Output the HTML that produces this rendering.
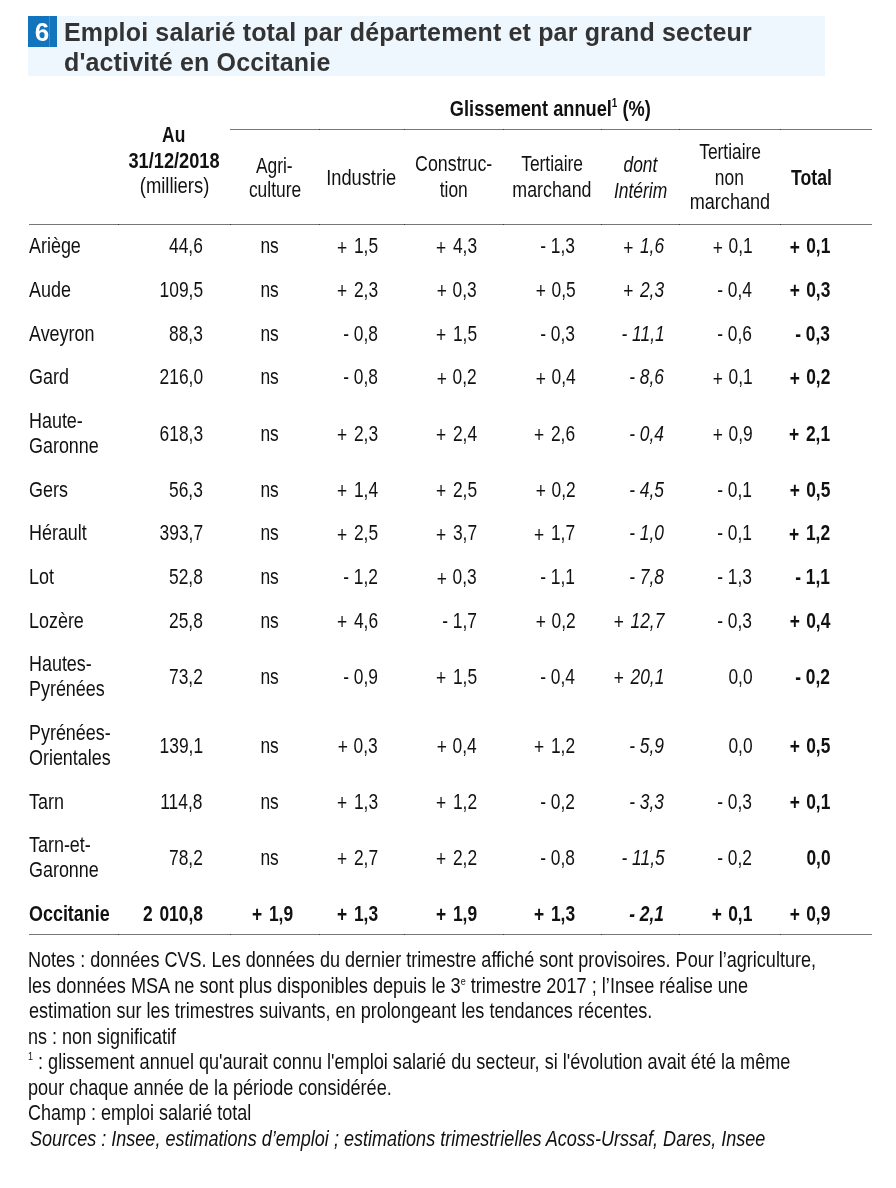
<!DOCTYPE html>
<html lang="fr"><head><meta charset="utf-8">
<style>
html,body{margin:0;padding:0;background:#fff;}
body{will-change:transform;width:896px;height:1188px;position:relative;overflow:hidden;font-family:"Liberation Sans",sans-serif;color:#111;}
.t{position:absolute;white-space:nowrap;}
.t > span{display:inline-block;white-space:nowrap;}
sup.s1{font-size:12px;line-height:0;vertical-align:baseline;position:relative;top:-9px;font-weight:bold;}
sup.s2{font-size:11px;line-height:0;vertical-align:baseline;position:relative;top:-8px;}
sup.s3{font-size:11px;line-height:0;vertical-align:baseline;position:relative;top:-9px;}
.hdr{position:absolute;left:28px;top:16px;width:797px;height:60px;background:#eff7fe;}
.num{position:absolute;left:28px;top:16px;width:29px;height:31px;background:#1274bd;}
.num i{position:absolute;left:21px;top:0;width:1px;height:31px;background:#3d8ccb;}
.num b{position:absolute;left:3.5px;top:1px;width:21px;height:31px;color:#fff;font:bold 26px/31px "Liberation Sans",sans-serif;text-align:center;}
.ttl{position:absolute;left:64px;color:#333;font:bold 25px/30px "Liberation Sans",sans-serif;letter-spacing:0.15px;white-space:nowrap;}
.pl{position:relative;top:1.5px;margin-right:2.5px;}
.pl.p0{margin-right:1.2px;}
.t[style*="bold"] .pl.p0{margin-right:1.8px;}
.ln{position:absolute;height:1px;background:#777;}
.tk{position:absolute;width:1px;height:1px;background:#3a3a3a;}
</style></head><body>
<div class="hdr"></div>
<div class="num"><b>6</b><i></i></div>
<div class="ttl" style="top:16.5px">Emploi salarié total par département et par grand secteur</div>
<div class="ttl" style="top:46.5px">d'activité en Occitanie</div>
<div class="ln" style="left:230px;top:129px;width:642px"></div>
<div class="ln" style="left:29px;top:224px;width:843px"></div>
<div class="ln" style="left:29px;top:934px;width:843px"></div>
<div class="tk" style="left:118px;top:224px"></div>
<div class="tk" style="left:230px;top:224px"></div>
<div class="tk" style="left:319px;top:224px"></div>
<div class="tk" style="left:404px;top:224px"></div>
<div class="tk" style="left:503px;top:224px"></div>
<div class="tk" style="left:601px;top:224px"></div>
<div class="tk" style="left:679px;top:224px"></div>
<div class="tk" style="left:780px;top:224px"></div>
<div class="tk" style="left:118px;top:934px"></div>
<div class="tk" style="left:230px;top:934px"></div>
<div class="tk" style="left:319px;top:934px"></div>
<div class="tk" style="left:404px;top:934px"></div>
<div class="tk" style="left:503px;top:934px"></div>
<div class="tk" style="left:601px;top:934px"></div>
<div class="tk" style="left:679px;top:934px"></div>
<div class="tk" style="left:780px;top:934px"></div>
<div class="tk" style="left:319px;top:129px"></div>
<div class="tk" style="left:404px;top:129px"></div>
<div class="tk" style="left:503px;top:129px"></div>
<div class="tk" style="left:601px;top:129px"></div>
<div class="tk" style="left:679px;top:129px"></div>
<div class="tk" style="left:780px;top:129px"></div>
<div class="t" style="top:97.77px;left:250.50px;width:600px;text-align:center;font-size:22px;line-height:22px;height:22px;font-weight:bold"><span style="transform:scaleX(0.8282);transform-origin:center 50%">Glissement annuel<sup class="s1">1</sup> (%)</span></div>
<div class="t" style="top:124.27px;left:-126.00px;width:600px;text-align:center;font-size:22px;line-height:22px;height:22px;font-weight:bold"><span style="transform:scaleX(0.7900);transform-origin:center 50%">Au</span></div>
<div class="t" style="top:150.37px;left:-125.90px;width:600px;text-align:center;font-size:22px;line-height:22px;height:22px;font-weight:bold"><span style="transform:scaleX(0.8278);transform-origin:center 50%">31/12/2018</span></div>
<div class="t" style="top:174.87px;left:-125.70px;width:600px;text-align:center;font-size:22px;line-height:22px;height:22px"><span style="transform:scaleX(0.8375);transform-origin:center 50%">(milliers)</span></div>
<div class="t" style="top:155.07px;left:-25.60px;width:600px;text-align:center;font-size:22px;line-height:22px;height:22px"><span style="transform:scaleX(0.7900);transform-origin:center 50%">Agri-</span></div>
<div class="t" style="top:179.47px;left:-24.90px;width:600px;text-align:center;font-size:22px;line-height:22px;height:22px"><span style="transform:scaleX(0.7900);transform-origin:center 50%">culture</span></div>
<div class="t" style="top:167.07px;left:61.53px;width:600px;text-align:center;font-size:22px;line-height:22px;height:22px"><span style="transform:scaleX(0.8309);transform-origin:center 50%">Industrie</span></div>
<div class="t" style="top:153.37px;left:154.01px;width:600px;text-align:center;font-size:22px;line-height:22px;height:22px"><span style="transform:scaleX(0.8097);transform-origin:center 50%">Construc-</span></div>
<div class="t" style="top:179.37px;left:153.60px;width:600px;text-align:center;font-size:22px;line-height:22px;height:22px"><span style="transform:scaleX(0.7900);transform-origin:center 50%">tion</span></div>
<div class="t" style="top:153.37px;left:252.14px;width:600px;text-align:center;font-size:22px;line-height:22px;height:22px"><span style="transform:scaleX(0.7896);transform-origin:center 50%">Tertiaire</span></div>
<div class="t" style="top:179.37px;left:252.09px;width:600px;text-align:center;font-size:22px;line-height:22px;height:22px"><span style="transform:scaleX(0.8095);transform-origin:center 50%">marchand</span></div>
<div class="t" style="top:153.97px;left:340.20px;width:600px;text-align:center;font-size:22px;line-height:22px;height:22px;font-style:italic"><span style="transform:scaleX(0.7900);transform-origin:center 50%">dont</span></div>
<div class="t" style="top:179.57px;left:340.31px;width:600px;text-align:center;font-size:22px;line-height:22px;height:22px;font-style:italic"><span style="transform:scaleX(0.7924);transform-origin:center 50%">Intérim</span></div>
<div class="t" style="top:140.87px;left:429.80px;width:600px;text-align:center;font-size:22px;line-height:22px;height:22px"><span style="transform:scaleX(0.7900);transform-origin:center 50%">Tertiaire</span></div>
<div class="t" style="top:167.07px;left:429.80px;width:600px;text-align:center;font-size:22px;line-height:22px;height:22px"><span style="transform:scaleX(0.7900);transform-origin:center 50%">non</span></div>
<div class="t" style="top:191.37px;left:429.92px;width:600px;text-align:center;font-size:22px;line-height:22px;height:22px"><span style="transform:scaleX(0.8226);transform-origin:center 50%">marchand</span></div>
<div class="t" style="top:167.07px;left:231.88px;width:600px;text-align:right;font-size:22px;line-height:22px;height:22px;font-weight:bold"><span style="transform:scaleX(0.8031);transform-origin:right 50%">Total</span></div>
<div class="t" style="top:235.27px;left:29.40px;font-size:22px;line-height:22px;height:22px"><span style="transform:scaleX(0.8150);transform-origin:left 50%">Ariège</span></div>
<div class="t" style="top:235.27px;left:-397.20px;width:600px;text-align:right;font-size:22px;line-height:22px;height:22px"><span style="transform:scaleX(0.7900);transform-origin:right 50%">44,6</span></div>
<div class="t" style="top:235.27px;left:-30.10px;width:600px;text-align:center;font-size:22px;line-height:22px;height:22px"><span style="transform:scaleX(0.7900);transform-origin:center 50%">ns</span></div>
<div class="t" style="top:235.27px;left:-222.30px;width:600px;text-align:right;font-size:22px;line-height:22px;height:22px"><span style="transform:scaleX(0.7900);transform-origin:right 50%"><span class="pl">+</span> 1,5</span></div>
<div class="t" style="top:235.27px;left:-123.10px;width:600px;text-align:right;font-size:22px;line-height:22px;height:22px"><span style="transform:scaleX(0.7900);transform-origin:right 50%"><span class="pl">+</span> 4,3</span></div>
<div class="t" style="top:235.27px;left:-24.50px;width:600px;text-align:right;font-size:22px;line-height:22px;height:22px"><span style="transform:scaleX(0.7900);transform-origin:right 50%">- 1,3</span></div>
<div class="t" style="top:235.27px;left:64.50px;width:600px;text-align:right;font-size:22px;line-height:22px;height:22px;font-style:italic"><span style="transform:scaleX(0.7900);transform-origin:right 50%"><span class="pl">+</span> 1,6</span></div>
<div class="t" style="top:235.27px;left:152.30px;width:600px;text-align:right;font-size:22px;line-height:22px;height:22px"><span style="transform:scaleX(0.7900);transform-origin:right 50%"><span class="pl p0">+</span> 0,1</span></div>
<div class="t" style="top:235.27px;left:230.20px;width:600px;text-align:right;font-size:22px;line-height:22px;height:22px;font-weight:bold"><span style="transform:scaleX(0.7900);transform-origin:right 50%"><span class="pl p0">+</span> 0,1</span></div>
<div class="t" style="top:278.97px;left:29.40px;font-size:22px;line-height:22px;height:22px"><span style="transform:scaleX(0.8150);transform-origin:left 50%">Aude</span></div>
<div class="t" style="top:278.97px;left:-397.20px;width:600px;text-align:right;font-size:22px;line-height:22px;height:22px"><span style="transform:scaleX(0.7900);transform-origin:right 50%">109,5</span></div>
<div class="t" style="top:278.97px;left:-30.10px;width:600px;text-align:center;font-size:22px;line-height:22px;height:22px"><span style="transform:scaleX(0.7900);transform-origin:center 50%">ns</span></div>
<div class="t" style="top:278.97px;left:-222.30px;width:600px;text-align:right;font-size:22px;line-height:22px;height:22px"><span style="transform:scaleX(0.7900);transform-origin:right 50%"><span class="pl">+</span> 2,3</span></div>
<div class="t" style="top:278.97px;left:-123.10px;width:600px;text-align:right;font-size:22px;line-height:22px;height:22px"><span style="transform:scaleX(0.7900);transform-origin:right 50%"><span class="pl p0">+</span> 0,3</span></div>
<div class="t" style="top:278.97px;left:-24.50px;width:600px;text-align:right;font-size:22px;line-height:22px;height:22px"><span style="transform:scaleX(0.7900);transform-origin:right 50%"><span class="pl p0">+</span> 0,5</span></div>
<div class="t" style="top:278.97px;left:64.50px;width:600px;text-align:right;font-size:22px;line-height:22px;height:22px;font-style:italic"><span style="transform:scaleX(0.7900);transform-origin:right 50%"><span class="pl">+</span> 2,3</span></div>
<div class="t" style="top:278.97px;left:152.30px;width:600px;text-align:right;font-size:22px;line-height:22px;height:22px"><span style="transform:scaleX(0.7900);transform-origin:right 50%">- 0,4</span></div>
<div class="t" style="top:278.97px;left:230.20px;width:600px;text-align:right;font-size:22px;line-height:22px;height:22px;font-weight:bold"><span style="transform:scaleX(0.7900);transform-origin:right 50%"><span class="pl p0">+</span> 0,3</span></div>
<div class="t" style="top:322.67px;left:29.40px;font-size:22px;line-height:22px;height:22px"><span style="transform:scaleX(0.8150);transform-origin:left 50%">Aveyron</span></div>
<div class="t" style="top:322.67px;left:-397.20px;width:600px;text-align:right;font-size:22px;line-height:22px;height:22px"><span style="transform:scaleX(0.7900);transform-origin:right 50%">88,3</span></div>
<div class="t" style="top:322.67px;left:-30.10px;width:600px;text-align:center;font-size:22px;line-height:22px;height:22px"><span style="transform:scaleX(0.7900);transform-origin:center 50%">ns</span></div>
<div class="t" style="top:322.67px;left:-222.30px;width:600px;text-align:right;font-size:22px;line-height:22px;height:22px"><span style="transform:scaleX(0.7900);transform-origin:right 50%">- 0,8</span></div>
<div class="t" style="top:322.67px;left:-123.10px;width:600px;text-align:right;font-size:22px;line-height:22px;height:22px"><span style="transform:scaleX(0.7900);transform-origin:right 50%"><span class="pl">+</span> 1,5</span></div>
<div class="t" style="top:322.67px;left:-24.50px;width:600px;text-align:right;font-size:22px;line-height:22px;height:22px"><span style="transform:scaleX(0.7900);transform-origin:right 50%">- 0,3</span></div>
<div class="t" style="top:322.67px;left:64.50px;width:600px;text-align:right;font-size:22px;line-height:22px;height:22px;font-style:italic"><span style="transform:scaleX(0.7900);transform-origin:right 50%">- 11,1</span></div>
<div class="t" style="top:322.67px;left:152.30px;width:600px;text-align:right;font-size:22px;line-height:22px;height:22px"><span style="transform:scaleX(0.7900);transform-origin:right 50%">- 0,6</span></div>
<div class="t" style="top:322.67px;left:230.20px;width:600px;text-align:right;font-size:22px;line-height:22px;height:22px;font-weight:bold"><span style="transform:scaleX(0.7900);transform-origin:right 50%">- 0,3</span></div>
<div class="t" style="top:366.37px;left:29.40px;font-size:22px;line-height:22px;height:22px"><span style="transform:scaleX(0.8150);transform-origin:left 50%">Gard</span></div>
<div class="t" style="top:366.37px;left:-397.20px;width:600px;text-align:right;font-size:22px;line-height:22px;height:22px"><span style="transform:scaleX(0.7900);transform-origin:right 50%">216,0</span></div>
<div class="t" style="top:366.37px;left:-30.10px;width:600px;text-align:center;font-size:22px;line-height:22px;height:22px"><span style="transform:scaleX(0.7900);transform-origin:center 50%">ns</span></div>
<div class="t" style="top:366.37px;left:-222.30px;width:600px;text-align:right;font-size:22px;line-height:22px;height:22px"><span style="transform:scaleX(0.7900);transform-origin:right 50%">- 0,8</span></div>
<div class="t" style="top:366.37px;left:-123.10px;width:600px;text-align:right;font-size:22px;line-height:22px;height:22px"><span style="transform:scaleX(0.7900);transform-origin:right 50%"><span class="pl p0">+</span> 0,2</span></div>
<div class="t" style="top:366.37px;left:-24.50px;width:600px;text-align:right;font-size:22px;line-height:22px;height:22px"><span style="transform:scaleX(0.7900);transform-origin:right 50%"><span class="pl p0">+</span> 0,4</span></div>
<div class="t" style="top:366.37px;left:64.50px;width:600px;text-align:right;font-size:22px;line-height:22px;height:22px;font-style:italic"><span style="transform:scaleX(0.7900);transform-origin:right 50%">- 8,6</span></div>
<div class="t" style="top:366.37px;left:152.30px;width:600px;text-align:right;font-size:22px;line-height:22px;height:22px"><span style="transform:scaleX(0.7900);transform-origin:right 50%"><span class="pl p0">+</span> 0,1</span></div>
<div class="t" style="top:366.37px;left:230.20px;width:600px;text-align:right;font-size:22px;line-height:22px;height:22px;font-weight:bold"><span style="transform:scaleX(0.7900);transform-origin:right 50%"><span class="pl p0">+</span> 0,2</span></div>
<div class="t" style="top:409.52px;left:29.40px;font-size:22px;line-height:22px;height:22px"><span style="transform:scaleX(0.8150);transform-origin:left 50%">Haute-</span></div>
<div class="t" style="top:435.02px;left:29.40px;font-size:22px;line-height:22px;height:22px"><span style="transform:scaleX(0.8150);transform-origin:left 50%">Garonne</span></div>
<div class="t" style="top:422.52px;left:-397.20px;width:600px;text-align:right;font-size:22px;line-height:22px;height:22px"><span style="transform:scaleX(0.7900);transform-origin:right 50%">618,3</span></div>
<div class="t" style="top:422.52px;left:-30.10px;width:600px;text-align:center;font-size:22px;line-height:22px;height:22px"><span style="transform:scaleX(0.7900);transform-origin:center 50%">ns</span></div>
<div class="t" style="top:422.52px;left:-222.30px;width:600px;text-align:right;font-size:22px;line-height:22px;height:22px"><span style="transform:scaleX(0.7900);transform-origin:right 50%"><span class="pl">+</span> 2,3</span></div>
<div class="t" style="top:422.52px;left:-123.10px;width:600px;text-align:right;font-size:22px;line-height:22px;height:22px"><span style="transform:scaleX(0.7900);transform-origin:right 50%"><span class="pl">+</span> 2,4</span></div>
<div class="t" style="top:422.52px;left:-24.50px;width:600px;text-align:right;font-size:22px;line-height:22px;height:22px"><span style="transform:scaleX(0.7900);transform-origin:right 50%"><span class="pl">+</span> 2,6</span></div>
<div class="t" style="top:422.52px;left:64.50px;width:600px;text-align:right;font-size:22px;line-height:22px;height:22px;font-style:italic"><span style="transform:scaleX(0.7900);transform-origin:right 50%">- 0,4</span></div>
<div class="t" style="top:422.52px;left:152.30px;width:600px;text-align:right;font-size:22px;line-height:22px;height:22px"><span style="transform:scaleX(0.7900);transform-origin:right 50%"><span class="pl p0">+</span> 0,9</span></div>
<div class="t" style="top:422.52px;left:230.20px;width:600px;text-align:right;font-size:22px;line-height:22px;height:22px;font-weight:bold"><span style="transform:scaleX(0.7900);transform-origin:right 50%"><span class="pl">+</span> 2,1</span></div>
<div class="t" style="top:478.67px;left:29.40px;font-size:22px;line-height:22px;height:22px"><span style="transform:scaleX(0.8150);transform-origin:left 50%">Gers</span></div>
<div class="t" style="top:478.67px;left:-397.20px;width:600px;text-align:right;font-size:22px;line-height:22px;height:22px"><span style="transform:scaleX(0.7900);transform-origin:right 50%">56,3</span></div>
<div class="t" style="top:478.67px;left:-30.10px;width:600px;text-align:center;font-size:22px;line-height:22px;height:22px"><span style="transform:scaleX(0.7900);transform-origin:center 50%">ns</span></div>
<div class="t" style="top:478.67px;left:-222.30px;width:600px;text-align:right;font-size:22px;line-height:22px;height:22px"><span style="transform:scaleX(0.7900);transform-origin:right 50%"><span class="pl">+</span> 1,4</span></div>
<div class="t" style="top:478.67px;left:-123.10px;width:600px;text-align:right;font-size:22px;line-height:22px;height:22px"><span style="transform:scaleX(0.7900);transform-origin:right 50%"><span class="pl">+</span> 2,5</span></div>
<div class="t" style="top:478.67px;left:-24.50px;width:600px;text-align:right;font-size:22px;line-height:22px;height:22px"><span style="transform:scaleX(0.7900);transform-origin:right 50%"><span class="pl p0">+</span> 0,2</span></div>
<div class="t" style="top:478.67px;left:64.50px;width:600px;text-align:right;font-size:22px;line-height:22px;height:22px;font-style:italic"><span style="transform:scaleX(0.7900);transform-origin:right 50%">- 4,5</span></div>
<div class="t" style="top:478.67px;left:152.30px;width:600px;text-align:right;font-size:22px;line-height:22px;height:22px"><span style="transform:scaleX(0.7900);transform-origin:right 50%">- 0,1</span></div>
<div class="t" style="top:478.67px;left:230.20px;width:600px;text-align:right;font-size:22px;line-height:22px;height:22px;font-weight:bold"><span style="transform:scaleX(0.7900);transform-origin:right 50%"><span class="pl p0">+</span> 0,5</span></div>
<div class="t" style="top:522.37px;left:29.40px;font-size:22px;line-height:22px;height:22px"><span style="transform:scaleX(0.8150);transform-origin:left 50%">Hérault</span></div>
<div class="t" style="top:522.37px;left:-397.20px;width:600px;text-align:right;font-size:22px;line-height:22px;height:22px"><span style="transform:scaleX(0.7900);transform-origin:right 50%">393,7</span></div>
<div class="t" style="top:522.37px;left:-30.10px;width:600px;text-align:center;font-size:22px;line-height:22px;height:22px"><span style="transform:scaleX(0.7900);transform-origin:center 50%">ns</span></div>
<div class="t" style="top:522.37px;left:-222.30px;width:600px;text-align:right;font-size:22px;line-height:22px;height:22px"><span style="transform:scaleX(0.7900);transform-origin:right 50%"><span class="pl">+</span> 2,5</span></div>
<div class="t" style="top:522.37px;left:-123.10px;width:600px;text-align:right;font-size:22px;line-height:22px;height:22px"><span style="transform:scaleX(0.7900);transform-origin:right 50%"><span class="pl">+</span> 3,7</span></div>
<div class="t" style="top:522.37px;left:-24.50px;width:600px;text-align:right;font-size:22px;line-height:22px;height:22px"><span style="transform:scaleX(0.7900);transform-origin:right 50%"><span class="pl">+</span> 1,7</span></div>
<div class="t" style="top:522.37px;left:64.50px;width:600px;text-align:right;font-size:22px;line-height:22px;height:22px;font-style:italic"><span style="transform:scaleX(0.7900);transform-origin:right 50%">- 1,0</span></div>
<div class="t" style="top:522.37px;left:152.30px;width:600px;text-align:right;font-size:22px;line-height:22px;height:22px"><span style="transform:scaleX(0.7900);transform-origin:right 50%">- 0,1</span></div>
<div class="t" style="top:522.37px;left:230.20px;width:600px;text-align:right;font-size:22px;line-height:22px;height:22px;font-weight:bold"><span style="transform:scaleX(0.7900);transform-origin:right 50%"><span class="pl">+</span> 1,2</span></div>
<div class="t" style="top:566.07px;left:29.40px;font-size:22px;line-height:22px;height:22px"><span style="transform:scaleX(0.8150);transform-origin:left 50%">Lot</span></div>
<div class="t" style="top:566.07px;left:-397.20px;width:600px;text-align:right;font-size:22px;line-height:22px;height:22px"><span style="transform:scaleX(0.7900);transform-origin:right 50%">52,8</span></div>
<div class="t" style="top:566.07px;left:-30.10px;width:600px;text-align:center;font-size:22px;line-height:22px;height:22px"><span style="transform:scaleX(0.7900);transform-origin:center 50%">ns</span></div>
<div class="t" style="top:566.07px;left:-222.30px;width:600px;text-align:right;font-size:22px;line-height:22px;height:22px"><span style="transform:scaleX(0.7900);transform-origin:right 50%">- 1,2</span></div>
<div class="t" style="top:566.07px;left:-123.10px;width:600px;text-align:right;font-size:22px;line-height:22px;height:22px"><span style="transform:scaleX(0.7900);transform-origin:right 50%"><span class="pl p0">+</span> 0,3</span></div>
<div class="t" style="top:566.07px;left:-24.50px;width:600px;text-align:right;font-size:22px;line-height:22px;height:22px"><span style="transform:scaleX(0.7900);transform-origin:right 50%">- 1,1</span></div>
<div class="t" style="top:566.07px;left:64.50px;width:600px;text-align:right;font-size:22px;line-height:22px;height:22px;font-style:italic"><span style="transform:scaleX(0.7900);transform-origin:right 50%">- 7,8</span></div>
<div class="t" style="top:566.07px;left:152.30px;width:600px;text-align:right;font-size:22px;line-height:22px;height:22px"><span style="transform:scaleX(0.7900);transform-origin:right 50%">- 1,3</span></div>
<div class="t" style="top:566.07px;left:230.20px;width:600px;text-align:right;font-size:22px;line-height:22px;height:22px;font-weight:bold"><span style="transform:scaleX(0.7900);transform-origin:right 50%">- 1,1</span></div>
<div class="t" style="top:609.77px;left:29.40px;font-size:22px;line-height:22px;height:22px"><span style="transform:scaleX(0.8150);transform-origin:left 50%">Lozère</span></div>
<div class="t" style="top:609.77px;left:-397.20px;width:600px;text-align:right;font-size:22px;line-height:22px;height:22px"><span style="transform:scaleX(0.7900);transform-origin:right 50%">25,8</span></div>
<div class="t" style="top:609.77px;left:-30.10px;width:600px;text-align:center;font-size:22px;line-height:22px;height:22px"><span style="transform:scaleX(0.7900);transform-origin:center 50%">ns</span></div>
<div class="t" style="top:609.77px;left:-222.30px;width:600px;text-align:right;font-size:22px;line-height:22px;height:22px"><span style="transform:scaleX(0.7900);transform-origin:right 50%"><span class="pl">+</span> 4,6</span></div>
<div class="t" style="top:609.77px;left:-123.10px;width:600px;text-align:right;font-size:22px;line-height:22px;height:22px"><span style="transform:scaleX(0.7900);transform-origin:right 50%">- 1,7</span></div>
<div class="t" style="top:609.77px;left:-24.50px;width:600px;text-align:right;font-size:22px;line-height:22px;height:22px"><span style="transform:scaleX(0.7900);transform-origin:right 50%"><span class="pl p0">+</span> 0,2</span></div>
<div class="t" style="top:609.77px;left:64.50px;width:600px;text-align:right;font-size:22px;line-height:22px;height:22px;font-style:italic"><span style="transform:scaleX(0.7900);transform-origin:right 50%"><span class="pl">+</span> 12,7</span></div>
<div class="t" style="top:609.77px;left:152.30px;width:600px;text-align:right;font-size:22px;line-height:22px;height:22px"><span style="transform:scaleX(0.7900);transform-origin:right 50%">- 0,3</span></div>
<div class="t" style="top:609.77px;left:230.20px;width:600px;text-align:right;font-size:22px;line-height:22px;height:22px;font-weight:bold"><span style="transform:scaleX(0.7900);transform-origin:right 50%"><span class="pl p0">+</span> 0,4</span></div>
<div class="t" style="top:652.92px;left:29.40px;font-size:22px;line-height:22px;height:22px"><span style="transform:scaleX(0.8150);transform-origin:left 50%">Hautes-</span></div>
<div class="t" style="top:678.42px;left:29.40px;font-size:22px;line-height:22px;height:22px"><span style="transform:scaleX(0.8150);transform-origin:left 50%">Pyrénées</span></div>
<div class="t" style="top:665.92px;left:-397.20px;width:600px;text-align:right;font-size:22px;line-height:22px;height:22px"><span style="transform:scaleX(0.7900);transform-origin:right 50%">73,2</span></div>
<div class="t" style="top:665.92px;left:-30.10px;width:600px;text-align:center;font-size:22px;line-height:22px;height:22px"><span style="transform:scaleX(0.7900);transform-origin:center 50%">ns</span></div>
<div class="t" style="top:665.92px;left:-222.30px;width:600px;text-align:right;font-size:22px;line-height:22px;height:22px"><span style="transform:scaleX(0.7900);transform-origin:right 50%">- 0,9</span></div>
<div class="t" style="top:665.92px;left:-123.10px;width:600px;text-align:right;font-size:22px;line-height:22px;height:22px"><span style="transform:scaleX(0.7900);transform-origin:right 50%"><span class="pl">+</span> 1,5</span></div>
<div class="t" style="top:665.92px;left:-24.50px;width:600px;text-align:right;font-size:22px;line-height:22px;height:22px"><span style="transform:scaleX(0.7900);transform-origin:right 50%">- 0,4</span></div>
<div class="t" style="top:665.92px;left:64.50px;width:600px;text-align:right;font-size:22px;line-height:22px;height:22px;font-style:italic"><span style="transform:scaleX(0.7900);transform-origin:right 50%"><span class="pl">+</span> 20,1</span></div>
<div class="t" style="top:665.92px;left:152.30px;width:600px;text-align:right;font-size:22px;line-height:22px;height:22px"><span style="transform:scaleX(0.7900);transform-origin:right 50%">0,0</span></div>
<div class="t" style="top:665.92px;left:230.20px;width:600px;text-align:right;font-size:22px;line-height:22px;height:22px;font-weight:bold"><span style="transform:scaleX(0.7900);transform-origin:right 50%">- 0,2</span></div>
<div class="t" style="top:721.52px;left:29.40px;font-size:22px;line-height:22px;height:22px"><span style="transform:scaleX(0.8150);transform-origin:left 50%">Pyrénées-</span></div>
<div class="t" style="top:747.02px;left:29.40px;font-size:22px;line-height:22px;height:22px"><span style="transform:scaleX(0.8150);transform-origin:left 50%">Orientales</span></div>
<div class="t" style="top:734.52px;left:-397.20px;width:600px;text-align:right;font-size:22px;line-height:22px;height:22px"><span style="transform:scaleX(0.7900);transform-origin:right 50%">139,1</span></div>
<div class="t" style="top:734.52px;left:-30.10px;width:600px;text-align:center;font-size:22px;line-height:22px;height:22px"><span style="transform:scaleX(0.7900);transform-origin:center 50%">ns</span></div>
<div class="t" style="top:734.52px;left:-222.30px;width:600px;text-align:right;font-size:22px;line-height:22px;height:22px"><span style="transform:scaleX(0.7900);transform-origin:right 50%"><span class="pl p0">+</span> 0,3</span></div>
<div class="t" style="top:734.52px;left:-123.10px;width:600px;text-align:right;font-size:22px;line-height:22px;height:22px"><span style="transform:scaleX(0.7900);transform-origin:right 50%"><span class="pl p0">+</span> 0,4</span></div>
<div class="t" style="top:734.52px;left:-24.50px;width:600px;text-align:right;font-size:22px;line-height:22px;height:22px"><span style="transform:scaleX(0.7900);transform-origin:right 50%"><span class="pl">+</span> 1,2</span></div>
<div class="t" style="top:734.52px;left:64.50px;width:600px;text-align:right;font-size:22px;line-height:22px;height:22px;font-style:italic"><span style="transform:scaleX(0.7900);transform-origin:right 50%">- 5,9</span></div>
<div class="t" style="top:734.52px;left:152.30px;width:600px;text-align:right;font-size:22px;line-height:22px;height:22px"><span style="transform:scaleX(0.7900);transform-origin:right 50%">0,0</span></div>
<div class="t" style="top:734.52px;left:230.20px;width:600px;text-align:right;font-size:22px;line-height:22px;height:22px;font-weight:bold"><span style="transform:scaleX(0.7900);transform-origin:right 50%"><span class="pl p0">+</span> 0,5</span></div>
<div class="t" style="top:790.67px;left:29.40px;font-size:22px;line-height:22px;height:22px"><span style="transform:scaleX(0.8150);transform-origin:left 50%">Tarn</span></div>
<div class="t" style="top:790.67px;left:-397.20px;width:600px;text-align:right;font-size:22px;line-height:22px;height:22px"><span style="transform:scaleX(0.7900);transform-origin:right 50%">114,8</span></div>
<div class="t" style="top:790.67px;left:-30.10px;width:600px;text-align:center;font-size:22px;line-height:22px;height:22px"><span style="transform:scaleX(0.7900);transform-origin:center 50%">ns</span></div>
<div class="t" style="top:790.67px;left:-222.30px;width:600px;text-align:right;font-size:22px;line-height:22px;height:22px"><span style="transform:scaleX(0.7900);transform-origin:right 50%"><span class="pl">+</span> 1,3</span></div>
<div class="t" style="top:790.67px;left:-123.10px;width:600px;text-align:right;font-size:22px;line-height:22px;height:22px"><span style="transform:scaleX(0.7900);transform-origin:right 50%"><span class="pl">+</span> 1,2</span></div>
<div class="t" style="top:790.67px;left:-24.50px;width:600px;text-align:right;font-size:22px;line-height:22px;height:22px"><span style="transform:scaleX(0.7900);transform-origin:right 50%">- 0,2</span></div>
<div class="t" style="top:790.67px;left:64.50px;width:600px;text-align:right;font-size:22px;line-height:22px;height:22px;font-style:italic"><span style="transform:scaleX(0.7900);transform-origin:right 50%">- 3,3</span></div>
<div class="t" style="top:790.67px;left:152.30px;width:600px;text-align:right;font-size:22px;line-height:22px;height:22px"><span style="transform:scaleX(0.7900);transform-origin:right 50%">- 0,3</span></div>
<div class="t" style="top:790.67px;left:230.20px;width:600px;text-align:right;font-size:22px;line-height:22px;height:22px;font-weight:bold"><span style="transform:scaleX(0.7900);transform-origin:right 50%"><span class="pl p0">+</span> 0,1</span></div>
<div class="t" style="top:833.82px;left:29.40px;font-size:22px;line-height:22px;height:22px"><span style="transform:scaleX(0.8150);transform-origin:left 50%">Tarn-et-</span></div>
<div class="t" style="top:859.32px;left:29.40px;font-size:22px;line-height:22px;height:22px"><span style="transform:scaleX(0.8150);transform-origin:left 50%">Garonne</span></div>
<div class="t" style="top:846.82px;left:-397.20px;width:600px;text-align:right;font-size:22px;line-height:22px;height:22px"><span style="transform:scaleX(0.7900);transform-origin:right 50%">78,2</span></div>
<div class="t" style="top:846.82px;left:-30.10px;width:600px;text-align:center;font-size:22px;line-height:22px;height:22px"><span style="transform:scaleX(0.7900);transform-origin:center 50%">ns</span></div>
<div class="t" style="top:846.82px;left:-222.30px;width:600px;text-align:right;font-size:22px;line-height:22px;height:22px"><span style="transform:scaleX(0.7900);transform-origin:right 50%"><span class="pl">+</span> 2,7</span></div>
<div class="t" style="top:846.82px;left:-123.10px;width:600px;text-align:right;font-size:22px;line-height:22px;height:22px"><span style="transform:scaleX(0.7900);transform-origin:right 50%"><span class="pl">+</span> 2,2</span></div>
<div class="t" style="top:846.82px;left:-24.50px;width:600px;text-align:right;font-size:22px;line-height:22px;height:22px"><span style="transform:scaleX(0.7900);transform-origin:right 50%">- 0,8</span></div>
<div class="t" style="top:846.82px;left:64.50px;width:600px;text-align:right;font-size:22px;line-height:22px;height:22px;font-style:italic"><span style="transform:scaleX(0.7900);transform-origin:right 50%">- 11,5</span></div>
<div class="t" style="top:846.82px;left:152.30px;width:600px;text-align:right;font-size:22px;line-height:22px;height:22px"><span style="transform:scaleX(0.7900);transform-origin:right 50%">- 0,2</span></div>
<div class="t" style="top:846.82px;left:230.20px;width:600px;text-align:right;font-size:22px;line-height:22px;height:22px;font-weight:bold"><span style="transform:scaleX(0.7900);transform-origin:right 50%">0,0</span></div>
<div class="t" style="top:902.97px;left:29.40px;font-size:22px;line-height:22px;height:22px;font-weight:bold"><span style="transform:scaleX(0.8150);transform-origin:left 50%">Occitanie</span></div>
<div class="t" style="top:902.97px;left:-397.20px;width:600px;text-align:right;font-size:22px;line-height:22px;height:22px;font-weight:bold"><span style="transform:scaleX(0.7900);transform-origin:right 50%">2<span style="margin-left:2.5px"> </span>010,8</span></div>
<div class="t" style="top:902.97px;left:-306.70px;width:600px;text-align:right;font-size:22px;line-height:22px;height:22px;font-weight:bold"><span style="transform:scaleX(0.7900);transform-origin:right 50%"><span class="pl">+</span> 1,9</span></div>
<div class="t" style="top:902.97px;left:-222.30px;width:600px;text-align:right;font-size:22px;line-height:22px;height:22px;font-weight:bold"><span style="transform:scaleX(0.7900);transform-origin:right 50%"><span class="pl">+</span> 1,3</span></div>
<div class="t" style="top:902.97px;left:-123.10px;width:600px;text-align:right;font-size:22px;line-height:22px;height:22px;font-weight:bold"><span style="transform:scaleX(0.7900);transform-origin:right 50%"><span class="pl">+</span> 1,9</span></div>
<div class="t" style="top:902.97px;left:-24.50px;width:600px;text-align:right;font-size:22px;line-height:22px;height:22px;font-weight:bold"><span style="transform:scaleX(0.7900);transform-origin:right 50%"><span class="pl">+</span> 1,3</span></div>
<div class="t" style="top:902.97px;left:64.50px;width:600px;text-align:right;font-size:22px;line-height:22px;height:22px;font-weight:bold;font-style:italic"><span style="transform:scaleX(0.7900);transform-origin:right 50%">- 2,1</span></div>
<div class="t" style="top:902.97px;left:152.30px;width:600px;text-align:right;font-size:22px;line-height:22px;height:22px;font-weight:bold"><span style="transform:scaleX(0.7900);transform-origin:right 50%"><span class="pl p0">+</span> 0,1</span></div>
<div class="t" style="top:902.97px;left:230.20px;width:600px;text-align:right;font-size:22px;line-height:22px;height:22px;font-weight:bold"><span style="transform:scaleX(0.7900);transform-origin:right 50%"><span class="pl p0">+</span> 0,9</span></div>
<div class="t" style="top:949.07px;left:28.09px;font-size:22px;line-height:22px;height:22px"><span style="transform:scaleX(0.8202);transform-origin:left 50%">Notes : données CVS. Les données du dernier trimestre affiché sont provisoires. Pour l’agriculture,</span></div>
<div class="t" style="top:974.63px;left:28.08px;font-size:22px;line-height:22px;height:22px"><span style="transform:scaleX(0.8246);transform-origin:left 50%">les données MSA ne sont plus disponibles depuis le 3<sup class="s2">e</sup> trimestre 2017 ; l’Insee réalise une</span></div>
<div class="t" style="top:1000.19px;left:28.91px;font-size:22px;line-height:22px;height:22px"><span style="transform:scaleX(0.8221);transform-origin:left 50%">estimation sur les trimestres suivants, en prolongeant les tendances récentes.</span></div>
<div class="t" style="top:1025.75px;left:28.09px;font-size:22px;line-height:22px;height:22px"><span style="transform:scaleX(0.8173);transform-origin:left 50%">ns : non significatif</span></div>
<div class="t" style="top:1051.31px;left:28.41px;font-size:22px;line-height:22px;height:22px"><span style="transform:scaleX(0.8221);transform-origin:left 50%"><sup class="s3">1</sup> : glissement annuel qu'aurait connu l'emploi salarié du secteur, si l'évolution avait été la même</span></div>
<div class="t" style="top:1076.87px;left:28.09px;font-size:22px;line-height:22px;height:22px"><span style="transform:scaleX(0.8214);transform-origin:left 50%">pour chaque année de la période considérée.</span></div>
<div class="t" style="top:1102.43px;left:28.09px;font-size:22px;line-height:22px;height:22px"><span style="transform:scaleX(0.8185);transform-origin:left 50%">Champ : emploi salarié total</span></div>
<div class="t" style="top:1127.99px;left:29.51px;font-size:22px;line-height:22px;height:22px;font-style:italic"><span style="transform:scaleX(0.8202);transform-origin:left 50%">Sources : Insee, estimations d’emploi ; estimations trimestrielles Acoss-Urssaf, Dares, Insee</span></div>
</body></html>
